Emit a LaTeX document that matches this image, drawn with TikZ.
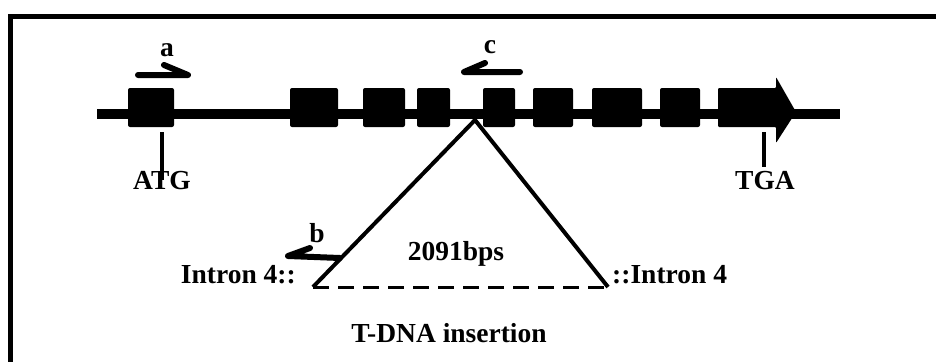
\documentclass[tikz,border=0pt]{standalone}
\usepackage{fontspec}
\setmainfont{Liberation Serif}

\begin{document}
\begin{tikzpicture}[x=1pt, y=-1pt,
  lbl/.style={font=\fontsize{27.5}{32}\selectfont\bfseries, inner sep=0pt, anchor=base},
  exon/.style={fill, rounded corners=2pt, minimum height=39pt, inner sep=0pt},
  primer/.style={line width=6pt, line cap=round, line join=round},
  tick/.style={line width=4pt}]
\useasboundingbox (0,0) rectangle (936,362);
% frame, top and left edges
\draw[line width=5pt] (936,16) -- (10,16) -- (10,362);
% gene body
\coordinate (g5) at (97,114);
\coordinate (g3) at (840,114);
\draw[line width=10pt] (g5) -- (g3);
\foreach \cx/\w [count=\i] in {151/46, 314/48, 384/42, 433.5/33, 499/32, 553/40, 617/50, 680/40}
  \node[exon, minimum width=\w pt] (e\i) at (\cx,107.5) {};
% last exon with the arrow head
\fill[rounded corners=1pt] (718,88) -- (776,88) -- (776,77) -- (796,112) -- (776,143) -- (776,127) -- (718,127) -- cycle;
% start and stop codons
\coordinate (atgtop) at (162,132);
\node[lbl] (atg) at (162,189) {ATG};
\draw[tick] (atgtop) -- ++(0,48);
\coordinate (tgatop) at (764,132);
\node[lbl] (tga) at (765,189) {TGA};
\draw[tick] (tgatop) -- ++(0,35);
% primers
\coordinate (a0) at (138,75);
\coordinate (a1) at (188,75);
\draw[primer] (a0) -- (a1) -- ++(-24,-10);
\node[lbl] (pa) at (167,56) {a};
\coordinate (c0) at (520,72);
\coordinate (c1) at (464,72);
\draw[primer] (c0) -- (c1) -- ++(21,-9);
\node[lbl] (pc) at (490,53) {c};
\coordinate (b0) at (340,258);
\coordinate (b1) at (288,256);
\draw[primer] (b0) -- (b1) -- ++(22,-8);
\node[lbl] (pb) at (317,242) {b};
% T-DNA insertion
\coordinate (ins) at (475,120);
\coordinate (il) at (313,287);
\coordinate (ir) at (608,287);
\draw[line width=4pt, line join=round] (il) -- (ins) -- (ir);
\draw[line width=3pt, dash pattern=on 16pt off 9pt] (il) -- (ir);
\node[lbl] (len) at (456,260) {2091bps};
\node[lbl, anchor=base east] (jl) at (296,283) {Intron 4::};
\node[lbl, anchor=base west] (jr) at (612,283) {::Intron 4};
\node[lbl] (tdna) at (449,342) {T-DNA insertion};
\end{tikzpicture}
\end{document}
